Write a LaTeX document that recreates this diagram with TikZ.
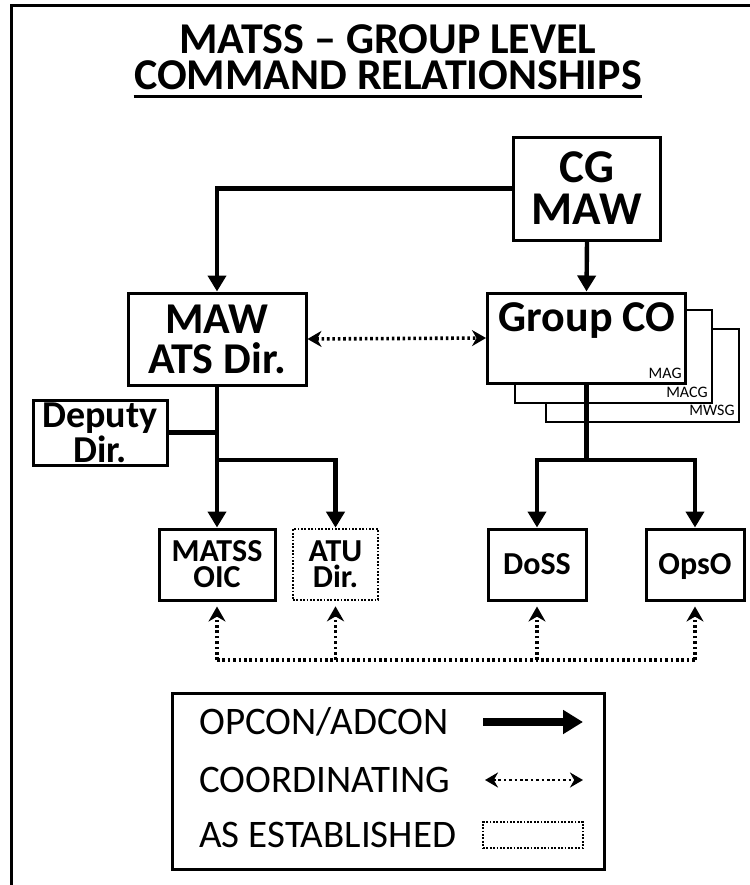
\documentclass[tikz,border=0pt]{standalone}
\usepackage{fontspec}
\setmainfont{Carlito}
\usetikzlibrary{arrows.meta,calc}

\begin{document}
\begin{tikzpicture}[x=0.5pt,y=-0.5pt,
  box/.style={draw,line width=1.5pt,fill=white,inner sep=0pt,align=center},
  shadowbox/.style={draw,line width=0.8pt,fill=white},
  smallbox/.style={box,minimum height=35.5pt,font=\fontsize{16}{13}\selectfont\bfseries},
  dottedbox/.style={dash pattern=on 0.9pt off 0.8pt,line width=1.3pt},
  cmd/.style={line width=2.2pt,-{Triangle[width=9pt,length=8pt]}},
  link/.style={line width=2.2pt},
  coordline/.style={line width=1.8pt,dash pattern=on 1.3pt off 1.4pt},
  coordarrow/.style={coordline,{Stealth[width=8pt,length=7pt]}-{Stealth[width=8pt,length=7pt]}},
  uparrow/.style={coordline,-{Stealth[width=8.5pt,length=7.5pt]}},
  tag/.style={inner sep=0pt,font=\fontsize{8}{9}\selectfont},
  legendtext/.style={anchor=west,inner sep=0pt,font=\fontsize{19.5}{21}\selectfont}
]
\useasboundingbox (0,0) rectangle (750,885);

% page frame (top and left rules)
\draw[line width=1.5pt] (11,885) -- (11,5) -- (750,5);

% title
\node[anchor=base,inner sep=0pt,font=\fontsize{22}{24}\selectfont\bfseries] (t1) at (388,53) {MATSS -- GROUP LEVEL};
\node[anchor=base,inner sep=0pt,font=\fontsize{22}{24}\selectfont\bfseries] (t2) at (388,89) {COMMAND RELATIONSHIPS};
\draw[line width=1.5pt] ([yshift=-3.5pt]t2.base west) -- ([yshift=-3.5pt]t2.base east);

% top level
\node[box,minimum width=73.5pt,minimum height=51.5pt,font=\fontsize{23.5}{21}\selectfont\bfseries] (cg) at (587,188.5) {CG\\MAW};

% wing ATS director
\node[box,minimum width=89pt,minimum height=46pt,font=\fontsize{22}{20}\selectfont\bfseries] (maw) at (217,339) {MAW\\ATS Dir.};

% group commanders (stacked)
\node[shadowbox,minimum width=96.5pt,minimum height=46.5pt] (g3) at (642.5,375.5) {};
\node[shadowbox,minimum width=98.5pt,minimum height=46.5pt] (g2) at (613.5,356.5) {};
\node[box,minimum width=99pt,minimum height=45pt] (grp) at (586.5,338) {};
\node[inner sep=0pt,font=\fontsize{22}{24}\selectfont\bfseries] (grplbl) at (587,321) {Group CO};
\node[tag,anchor=base east] (mag) at (682,378) {MAG};
\node[tag,anchor=base east] (macg) at (708,397) {MACG};
\node[tag,anchor=base east] (mwsg) at (735,415) {MWSG};

% deputy
\node[box,minimum width=67pt,minimum height=32.5pt,font=\fontsize{19}{14.5}\selectfont\bfseries] (dep) at (100,432.5) {Deputy\\Dir.};

% lower level
\node[smallbox,minimum width=58pt] (matss) at (217,564.5) {MATSS\\OIC};
\node[smallbox,dottedbox,minimum width=42.5pt] (atu) at (335.5,564.5) {ATU\\Dir.};
\node[smallbox,minimum width=49pt,text height=10pt,text depth=0pt] (doss) at (537,564.5) {DoSS};
\node[smallbox,minimum width=49pt,text height=10pt,text depth=0pt] (opso) at (695,564.5) {OpsO};

% command lines
\draw[cmd] (cg.west) -| (maw.north);
\draw[cmd] (cg.south) -- (grp.north);
\draw[cmd] (maw.south) -- (matss.north);
\draw[link] (dep.east) -- (dep.east -| maw.south);
\coordinate (mb) at (217,460);
\draw[cmd] (mb) -| (atu.north);
\coordinate (gb) at (586.5,460);
\draw[link] (grp.south) -- (gb);
\draw[cmd] (gb) -| (doss.north);
\draw[cmd] (gb) -| (opso.north);

% coordinating lines
\draw[coordarrow] (maw.east) -- (grp.west);
\coordinate (b1) at (217,660);
\coordinate (b2) at (335.5,660);
\coordinate (b3) at (537,660);
\coordinate (b4) at (695,660);
\draw[coordline] (b1) -- (b4);
\draw[uparrow,shorten >=2.5pt] (b1) -- (matss.south);
\draw[uparrow,shorten >=2.5pt] (b2) -- (atu.south);
\draw[uparrow,shorten >=2.5pt] (b3) -- (doss.south);
\draw[uparrow,shorten >=2.5pt] (b4) -- (opso.south);

% legend
\node[box,minimum width=216pt,minimum height=88pt] (legend) at (388,781) {};
\node[legendtext] (l1) at (199,722) {OPCON/ADCON};
\node[legendtext] (l2) at (199,780) {COORDINATING};
\node[legendtext] (l3) at (199,835) {AS ESTABLISHED};
\coordinate (a1) at (483,722);
\coordinate (a2) at (583,722);
\draw[line width=4pt,-{Triangle[width=11.5pt,length=10pt]}] (a1) -- (a2);
\coordinate (c1) at (485,780);
\coordinate (c2) at (583,780);
\draw[coordline,line width=1.3pt,{Stealth[width=7.5pt,length=6.5pt]}-{Stealth[width=7.5pt,length=6.5pt]}] (c1) -- (c2);
\node[draw,dottedbox,minimum width=50pt,minimum height=13pt,inner sep=0pt] (l3box) at (533,835) {};
\end{tikzpicture}
\end{document}
